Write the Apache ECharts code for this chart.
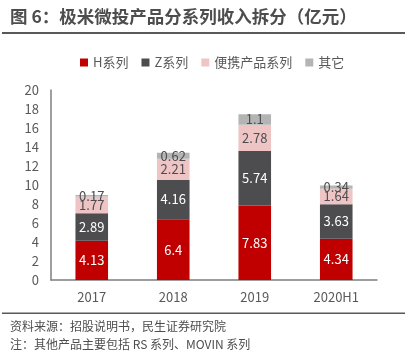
<!DOCTYPE html>
<html><head><meta charset="utf-8">
<script src="https://cdn.jsdelivr.net/npm/echarts@6/dist/echarts.min.js"></script>
<style>html,body{margin:0;padding:0;background:#fff;}#c{width:407px;height:356px;}</style>
</head><body><div id="c"></div>
<script>
const categories = ['2017','2018','2019','2020H1'];
const seriesNames = ['H系列','Z系列','便携产品系列','其它'];
const hSeries = [4.13, 6.4, 7.83, 4.34];
const zSeries = [2.89, 4.16, 5.74, 3.63];
const portable = [1.77, 2.21, 2.78, 1.64];
const others = [0.17, 0.62, 1.1, 0.34];
const yTicks = [0, 20, 2];

const font = '"Noto Sans CJK SC", "Microsoft YaHei", sans-serif';
const colors = ['#C00000', '#4D4D4F', '#EFC4C4', '#B4B4B4'];
const labelColors = ['#ffffff', '#ffffff', '#4D4D4F', '#4D4D4F'];
const data = [hSeries, zSeries, portable, others];

const chart = echarts.init(document.getElementById('c'), null, {renderer: 'canvas'});
chart.setOption({
  animation: false,
  textStyle: {fontFamily: font},
  graphic: [
    {type: 'text', left: 10, top: 8, style: {text: '图 6：极米微投产品分系列收入拆分（亿元）', font: 'bold 17.5px ' + font, fill: '#4D4D4F'}},
    {type: 'rect', shape: {x: 2, y: 32, width: 403, height: 2}, style: {fill: '#595959'}},
    {type: 'rect', shape: {x: 2, y: 312.5, width: 403, height: 1.5}, style: {fill: '#595959'}},
    {type: 'text', left: 10, top: 320, style: {text: '资料来源：招股说明书，民生证券研究院', font: '12px ' + font, fill: '#4D4D4F'}},
    {type: 'text', left: 10, top: 338, style: {text: '注：其他产品主要包括 RS 系列、MOVIN 系列', font: '12px ' + font, fill: '#4D4D4F'}}
  ],
  legend: {
    top: 51, left: 75, itemWidth: 8, itemHeight: 8, itemGap: 13, icon: 'rect',
    textStyle: {fontSize: 13, color: '#595959', fontFamily: font},
    data: seriesNames
  },
  grid: {left: 51, right: 30, top: 90, bottom: 76, containLabel: false},
  xAxis: {
    type: 'category', data: categories,
    axisLine: {lineStyle: {color: '#7F7F7F', width: 1.5}},
    axisTick: {show: false},
    axisLabel: {fontSize: 13, color: '#595959', margin: 11, fontFamily: font}
  },
  yAxis: {
    type: 'value', min: yTicks[0], max: yTicks[1], interval: yTicks[2],
    axisLine: {show: true, lineStyle: {color: '#7F7F7F', width: 1.5}},
    axisTick: {show: false},
    splitLine: {show: false},
    axisLabel: {fontSize: 13, color: '#595959', margin: 12, fontFamily: font}
  },
  series: seriesNames.map((n, i) => ({
    name: n, type: 'bar', stack: 'total', barWidth: '40%',
    data: data[i],
    itemStyle: {color: colors[i]},
    label: {show: true, position: 'inside', color: labelColors[i], fontSize: 13, fontFamily: font}
  }))
});
</script></body></html>
